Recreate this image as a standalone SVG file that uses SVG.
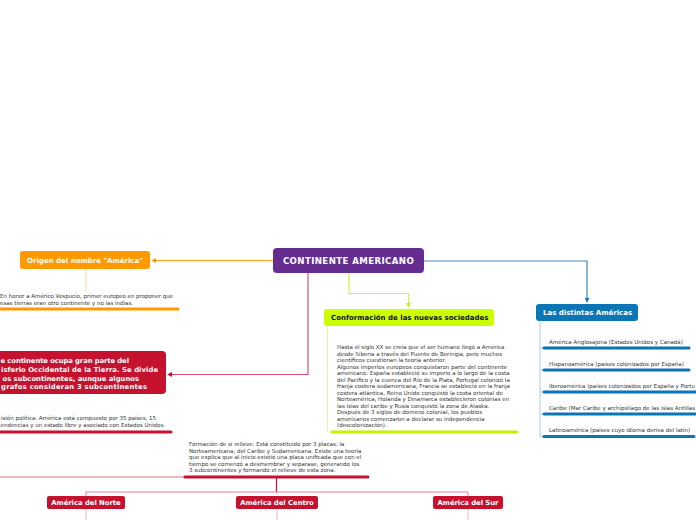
<svg xmlns="http://www.w3.org/2000/svg" width="696" height="520" viewBox="0 0 696 520">
<defs>
<marker id="arO" viewBox="0 0 6 6" refX="5" refY="3" markerWidth="5" markerHeight="5" orient="auto" markerUnits="userSpaceOnUse"><path d="M0,0 L6,3 L0,6 z" fill="#FF9900"/></marker>
<marker id="arR" viewBox="0 0 6 6" refX="5" refY="3" markerWidth="5" markerHeight="5" orient="auto" markerUnits="userSpaceOnUse"><path d="M0,0 L6,3 L0,6 z" fill="#C4122F"/></marker>
<marker id="arL" viewBox="0 0 6 6" refX="5" refY="3" markerWidth="5" markerHeight="5" orient="auto" markerUnits="userSpaceOnUse"><path d="M0,0 L6,3 L0,6 z" fill="#CCEE00"/></marker>
<marker id="arB" viewBox="0 0 6 6" refX="5" refY="3" markerWidth="5" markerHeight="5" orient="auto" markerUnits="userSpaceOnUse"><path d="M0,0 L6,3 L0,6 z" fill="#1A73B0"/></marker>
</defs>
<style>
text{font-family:"DejaVu Sans","Liberation Sans",sans-serif}
.h{font-weight:bold;font-size:7px;fill:#fff}
.r{font-weight:bold;font-size:6.8px;fill:#fff}
.sn{font-weight:bold;font-size:6.8px;fill:#fff}
.s{font-size:5.5px;fill:#333}
.c{fill:none;stroke-width:1.2}
</style>
<rect width="696" height="520" fill="#fff"/>
<g id="connectors">
<path class="c" d="M273,260.5 H152" stroke="#FFA41C" marker-end="url(#arO)"/>
<path class="c" d="M308,273 V374.5 H168" stroke="#D9536E" marker-end="url(#arR)"/>
<path class="c" d="M349,273 V293.5 H408.5 V307" stroke="#D4F23A" marker-end="url(#arL)"/>
<path class="c" d="M424,261 H587 V302" stroke="#3A8BC2" marker-end="url(#arB)"/>
</g>
<g id="n-center">
<rect x="273" y="248" width="151" height="25" rx="4" fill="#662D91"/>
<text x="348.5" y="264" text-anchor="middle" font-weight="bold" font-size="8.6" letter-spacing="0.4" fill="#fff">CONTINENTE AMERICANO</text>
</g>
<g id="n-origen">
<rect x="20" y="251" width="130" height="18" rx="3" fill="#FF9900"/>
<text class="h" x="85" y="262.5" text-anchor="middle">Origen del nombre "América"</text>
</g>
<g id="n-origen-t">
<line x1="86" y1="269" x2="86" y2="291" stroke="#FFD59A" stroke-width="1"/>
<text class="s" x="0" y="298" textLength="173">En honor a Américo Vespucio, primer europeo en proponer que</text>
<text class="s" x="0" y="305">esas tierras eran otro continente y no las indias.</text>
<line x1="0" y1="309" x2="178" y2="309" stroke="#FF9900" stroke-width="3" stroke-linecap="round"/>
</g>
<g id="n-hemisferio">
<rect x="-20" y="351" width="186" height="43" rx="4" fill="#C4122F"/>
<text class="r" x="0.5" y="363.3" textLength="128.5">e continente ocupa gran parte del</text>
<text class="r" x="1" y="372" textLength="157">isferio Occidental de la Tierra. Se divide</text>
<text class="r" x="2.5" y="380.7" textLength="136.5">os subcontinentes, aunque algunos</text>
<text class="r" x="1" y="389.4" textLength="146">grafos consideran 3 subcontinentes</text>
</g>
<g id="n-division">
<text class="s" x="1" y="419.5" textLength="155">isión política: América está compuesto por 35 países, 15</text>
<text class="s" x="0.5" y="427" textLength="164.5">endencias y un estado libre y asociado con Estados Unidos.</text>
<line x1="0" y1="432" x2="171" y2="432" stroke="#C4122F" stroke-width="3" stroke-linecap="round"/>
</g>
<g id="n-relieve">
<line x1="0" y1="477" x2="184" y2="477" stroke="#EDBAC4" stroke-width="1.8"/>
<text class="s" x="189" y="445.8">Formación de si relieve: Está constituido por 3 placas: la</text>
<text class="s" x="189" y="452.5">Norteamericana, del Caribe y Sudamericana. Existe una teoría</text>
<text class="s" x="189" y="459">que explica que al inicio existió una placa unificada que con el</text>
<text class="s" x="189" y="465.5">tiempo se comenzó a desmembrar y separase, generando los</text>
<text class="s" x="189" y="472.1">3 subcontinentes y formando el relieve de esta zona.</text>
<line x1="185" y1="477" x2="368" y2="477" stroke="#C4122F" stroke-width="3" stroke-linecap="round"/>
</g>
<g id="sub-connectors">
<line x1="276.5" y1="477" x2="276.5" y2="492" stroke="#C4122F" stroke-width="1.2"/>
<line x1="86" y1="492" x2="468" y2="492" stroke="#E27D92" stroke-width="1"/>
<line x1="86" y1="492" x2="86" y2="496" stroke="#E27D92" stroke-width="1"/>
<line x1="468" y1="492" x2="468" y2="496" stroke="#E27D92" stroke-width="1"/>
<line x1="86" y1="509" x2="86" y2="520" stroke="#EDB3BF" stroke-width="1"/>
<line x1="277" y1="509" x2="277" y2="520" stroke="#EDB3BF" stroke-width="1"/>
<line x1="468" y1="509" x2="468" y2="520" stroke="#EDB3BF" stroke-width="1"/>
</g>
<g id="n-norte">
<rect x="47" y="496" width="78" height="13" rx="2" fill="#C4122F"/>
<text class="sn" x="86" y="505" text-anchor="middle">América del Norte</text>
</g>
<g id="n-centro">
<rect x="236" y="496" width="82" height="13" rx="2" fill="#C4122F"/>
<text class="sn" x="277" y="505" text-anchor="middle">América del Centro</text>
</g>
<g id="n-sur">
<rect x="433" y="496" width="70" height="13" rx="2" fill="#C4122F"/>
<text class="sn" x="468" y="505" text-anchor="middle">América del Sur</text>
</g>
<g id="n-conformacion">
<rect x="324" y="309" width="170" height="17" rx="3" fill="#CCFF00"/>
<text class="h" x="331" y="320" style="fill:#111">Conformación de las nuevas sociedades</text>
</g>
<g id="n-conformacion-t">
<line x1="327.5" y1="326" x2="327.5" y2="432" stroke="#E6F5A0" stroke-width="1"/>
<text class="s" x="337" y="349">Hasta el siglo XX se creía que el ser humano llegó a América</text>
<text class="s" x="337" y="355.5">desde Siberia a través del Puente de Beringia, pero muchos</text>
<text class="s" x="337" y="362">científicos cuestionan la teoría anterior.</text>
<text class="s" x="337" y="368.5">Algunos imperios europeos conquistaron parte del continente</text>
<text class="s" x="337" y="375">americano: España estableció su imperio a lo largo de la costa</text>
<text class="s" x="337" y="381.5">del Pacífico y la cuenca del Río de la Plata, Portugal colonizó la</text>
<text class="s" x="337" y="388">franja costera sudamericana, Francia se estableció en la franja</text>
<text class="s" x="337" y="394.5">costera atlántica, Reino Unido conquistó la costa oriental de</text>
<text class="s" x="337" y="401">Norteamérica, Holanda y Dinamarca establecieron colonias en</text>
<text class="s" x="337" y="407.5">las islas del caribe y Rusia conquistó la zona de Alaska.</text>
<text class="s" x="337" y="414">Después de 3 siglos de dominio colonial, los pueblos</text>
<text class="s" x="337" y="420.5">americanos comenzaron a declarar su independencia</text>
<text class="s" x="337" y="427">(descolonización).</text>
<line x1="332" y1="432" x2="517" y2="432" stroke="#CCEE00" stroke-width="3" stroke-linecap="round"/>
</g>
<g id="n-americas">
<rect x="536" y="304" width="102" height="17" rx="3" fill="#0C75B6"/>
<text class="h" x="543" y="315">Las distintas Américas</text>
</g>
<g id="n-americas-items">
<line x1="540" y1="321" x2="540" y2="436.5" stroke="#A8CDE6" stroke-width="1"/>
<g stroke="#A8CDE6" stroke-width="1">
<line x1="540" y1="348" x2="544" y2="348"/>
<line x1="540" y1="370" x2="544" y2="370"/>
<line x1="540" y1="392" x2="544" y2="392"/>
<line x1="540" y1="414" x2="544" y2="414"/>
<line x1="540" y1="436.5" x2="544" y2="436.5"/>
</g>
<text class="s" x="549" y="344">América Anglosajona (Estados Unidos y Canadá)</text>
<text class="s" x="549" y="366">Hispanoamérica (países colonizados por España)</text>
<text class="s" x="549" y="388" textLength="146">Iberoamérica (países colonizados por España y Portu</text>
<text class="s" x="549" y="410" textLength="146">Caribe (Mar Caribe y archipiélago de las islas Antillas</text>
<text class="s" x="549" y="432">Latinoamérica (países cuyo idioma deriva del latín)</text>
<g stroke="#0C75B6" stroke-width="3" stroke-linecap="round">
<line x1="544" y1="348" x2="689" y2="348"/>
<line x1="544" y1="370" x2="689" y2="370"/>
<line x1="544" y1="392" x2="698" y2="392"/>
<line x1="544" y1="414" x2="698" y2="414"/>
<line x1="544" y1="436.5" x2="694" y2="436.5"/>
</g>
</g>
</svg>
